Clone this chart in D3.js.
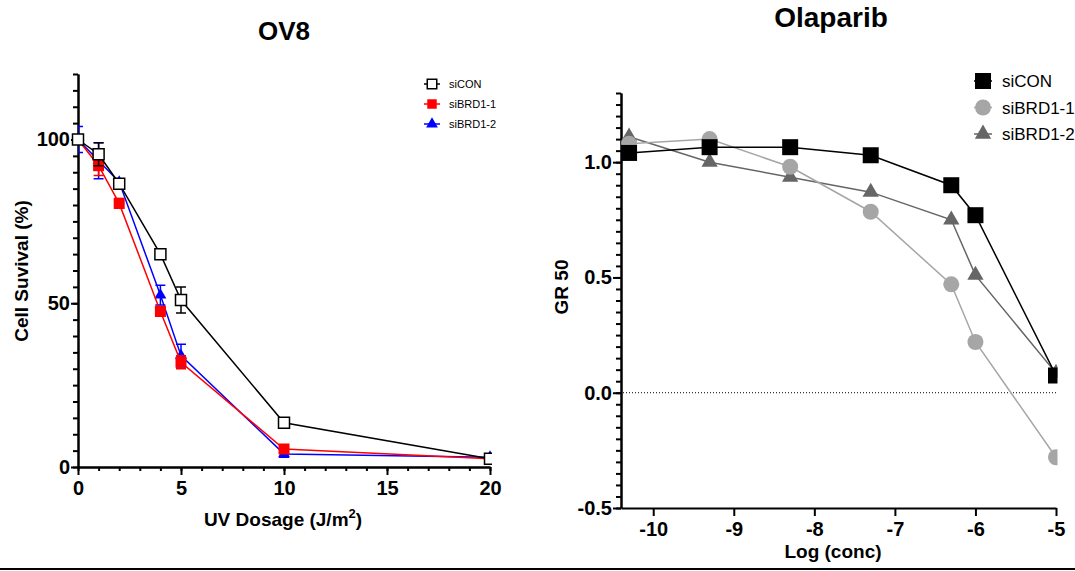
<!DOCTYPE html>
<html>
<head>
<meta charset="utf-8">
<script src="https://cdnjs.cloudflare.com/ajax/libs/d3/7.8.5/d3.min.js"></script>
<style>
  body { margin: 0; background: #fff; }
  svg { font-family: "Liberation Sans", Arial, sans-serif; }
</style>
</head>
<body>
<script>
// left panel: OV8 UV survival
var uvDose = [0, 1, 2, 4, 5, 10, 20];
var siconUV = [100, 95.5, 86.5, 65, 51, 13.5, 2.5];
var siconUVErr = [0.5, 3.5, 1.5, 1.5, 4, 1, 0.5];
var brd1UV = [100, 92, 80.5, 47.5, 32, 5.5, 2.5];
var brd1UVErr = [0.5, 3, 1.5, 1.5, 2, 1, 0.5];
var brd2UV = [100, 93.5, 87, 52.5, 34, 4, 3];
var brd2UVErr = [4, 5.5, 1, 3, 3.5, 1, 0.5];
var uvMajorTicks = [0, 5, 10, 15, 20];
var survMajorTicks = [0, 50, 100];

// right panel: Olaparib GR50
var logConc = [-10.3, -9.3, -8.3, -7.3, -6.3, -6, -5];
var siconGR = [1.04, 1.065, 1.065, 1.03, 0.90, 0.77, 0.075];
var brd1GR = [1.08, 1.10, 0.98, 0.785, 0.47, 0.22, -0.28];
var brd2GR = [1.11, 1.0, 0.935, 0.87, 0.75, 0.51, 0.085];
var concTicks = [-10, -9, -8, -7, -6, -5];
var grMajorTicks = [-0.5, 0, 0.5, 1.0];

var width = 1075;
var height = 571;

var svg = d3.select('body').append('svg')
  .attr('width', width)
  .attr('height', height);

var defs = svg.append('defs');

// plain hyphen instead of the unicode minus d3 puts in
var hyphenFmt = function(f) {
  return function(d) { return f(d).replace('\u2212', '-'); };
};

var styleAxis = function(g) {
  g.select('.domain').attr('stroke', '#000').attr('stroke-width', 2);
  g.selectAll('.tick line').attr('stroke', '#000').attr('stroke-width', 2);
  g.selectAll('.tick text')
    .attr('fill', '#000')
    .attr('font-size', 20)
    .attr('font-weight', 'bold')
    .attr('font-family', '"Liberation Sans", Arial, sans-serif');
};

/*---------------- left chart ----------------*/
var x1 = d3.scaleLinear().domain([0, 20]).range([78, 490]);
var y1 = d3.scaleLinear().domain([0, 120]).range([467, 74]);

svg.append('g')
  .attr('transform', 'translate(0,' + y1(0) + ')')
  .call(d3.axisBottom(x1).tickValues(d3.range(0, 21, 1)).tickSize(4).tickSizeOuter(0).tickFormat(''))
  .call(styleAxis);
svg.append('g')
  .attr('transform', 'translate(0,' + y1(0) + ')')
  .call(d3.axisBottom(x1).tickValues(uvMajorTicks).tickSize(8).tickSizeOuter(0).tickPadding(6))
  .call(styleAxis);

svg.append('g')
  .attr('transform', 'translate(' + x1(0) + ',0)')
  .call(d3.axisLeft(y1).tickValues(d3.range(0, 121, 5)).tickSize(5).tickSizeOuter(0).tickFormat(''))
  .call(styleAxis);
svg.append('g')
  .attr('transform', 'translate(' + x1(0) + ',0)')
  .call(d3.axisLeft(y1).tickValues(survMajorTicks).tickSize(7).tickSizeOuter(0).tickPadding(1))
  .call(styleAxis);

defs.append('clipPath').attr('id', 'clipErr')
  .append('rect').attr('x', x1(0)).attr('y', 0).attr('width', 500).attr('height', height);
defs.append('clipPath').attr('id', 'clipLeft')
  .append('rect').attr('x', 0).attr('y', 0).attr('width', x1(20) + 2).attr('height', height);

var uvSeries = [
  {name: 'siBRD1-2', vals: brd2UV, err: brd2UVErr, color: '#0000ff', sym: d3.symbolTriangle, size: 62, fill: '#0000ff'},
  {name: 'siBRD1-1', vals: brd1UV, err: brd1UVErr, color: '#ff0000', sym: d3.symbolSquare, size: 121, fill: '#ff0000'},
  {name: 'siCON', vals: siconUV, err: siconUVErr, color: '#000', sym: d3.symbolSquare, size: 121, fill: '#fff'}
];

var uvLine = d3.line()
  .x(function(d) { return x1(d.x); })
  .y(function(d) { return y1(d.y); });

uvSeries.forEach(function(s) {
  var pts = uvDose.map(function(d, i) { return {x: d, y: s.vals[i], e: s.err[i]}; });
  var g = svg.append('g').attr('clip-path', 'url(#clipLeft)');

  g.append('path')
    .datum(pts)
    .attr('d', uvLine)
    .attr('fill', 'none')
    .attr('stroke', s.color)
    .attr('stroke-width', 1.5);

  var eb = g.append('g').attr('clip-path', 'url(#clipErr)');
  pts.forEach(function(p) {
    var cx = x1(p.x);
    eb.append('path')
      .attr('d', 'M' + cx + ',' + y1(p.y + p.e) + 'V' + y1(p.y - p.e) +
        'M' + (cx - 5) + ',' + y1(p.y + p.e) + 'H' + (cx + 5) +
        'M' + (cx - 5) + ',' + y1(p.y - p.e) + 'H' + (cx + 5))
      .attr('stroke', s.color)
      .attr('stroke-width', 1.5)
      .attr('fill', 'none');
  });

  g.selectAll('.mk')
    .data(pts)
    .enter().append('path')
    .attr('transform', function(d) { return 'translate(' + x1(d.x) + ',' + y1(d.y) + ')'; })
    .attr('d', d3.symbol().type(s.sym).size(s.size))
    .attr('fill', s.fill)
    .attr('stroke', s.color)
    .attr('stroke-width', s.fill === '#fff' ? 1.5 : 0);
});

// left legend
var legLeft = [
  {name: 'siCON', color: '#000', sym: d3.symbolSquare, fill: '#fff', size: 90},
  {name: 'siBRD1-1', color: '#ff0000', sym: d3.symbolSquare, fill: '#ff0000', size: 90},
  {name: 'siBRD1-2', color: '#0000ff', sym: d3.symbolTriangle, fill: '#0000ff', size: 60}
];
legLeft.forEach(function(l, i) {
  var ly = 84 + i * 20;
  svg.append('line')
    .attr('x1', 424).attr('x2', 440).attr('y1', ly).attr('y2', ly)
    .attr('stroke', l.color).attr('stroke-width', 1.5);
  svg.append('path')
    .attr('transform', 'translate(432,' + ly + ')')
    .attr('d', d3.symbol().type(l.sym).size(l.size))
    .attr('fill', l.fill)
    .attr('stroke', l.color)
    .attr('stroke-width', l.fill === '#fff' ? 1.5 : 0);
  svg.append('text')
    .attr('x', 449).attr('y', ly + 4)
    .attr('font-size', 11)
    .text(l.name);
});

svg.append('text')
  .attr('x', 284).attr('y', 40)
  .attr('text-anchor', 'middle')
  .attr('font-size', 26).attr('font-weight', 'bold')
  .text('OV8');

svg.append('text')
  .attr('transform', 'translate(28,271) rotate(-90)')
  .attr('text-anchor', 'middle')
  .attr('font-size', 19).attr('font-weight', 'bold')
  .text('Cell Suvival (%)');

var xl = svg.append('text')
  .attr('x', 283).attr('y', 526)
  .attr('text-anchor', 'middle')
  .attr('font-size', 19).attr('font-weight', 'bold');
xl.append('tspan').text('UV Dosage (J/m');
xl.append('tspan').attr('font-size', 13).attr('dy', -8).text('2');
xl.append('tspan').attr('dy', 8).text(')');

/*---------------- right chart ----------------*/
var x2 = d3.scaleLinear().domain([-10.4, -5]).range([621, 1056]);
var y2 = d3.scaleLinear().domain([-0.5, 1.3]).range([508, 93]);

svg.append('g')
  .attr('transform', 'translate(0,' + y2(-0.5) + ')')
  .call(d3.axisBottom(x2).tickValues(concTicks).tickSize(8).tickSizeOuter(0).tickPadding(6)
    .tickFormat(hyphenFmt(d3.format('d'))))
  .call(styleAxis);

svg.append('g')
  .attr('transform', 'translate(' + x2(-10.4) + ',0)')
  .call(d3.axisLeft(y2).tickValues(d3.range(-10, 27, 1).map(function(d) { return d * 0.05; })).tickSize(5).tickSizeOuter(0).tickFormat(''))
  .call(styleAxis);
svg.append('g')
  .attr('transform', 'translate(' + x2(-10.4) + ',0)')
  .call(d3.axisLeft(y2).tickValues(grMajorTicks).tickSize(8).tickSizeOuter(0).tickPadding(1)
    .tickFormat(hyphenFmt(d3.format('.1f'))))
  .call(styleAxis);

svg.append('line')
  .attr('x1', x2(-10.4) + 2).attr('x2', x2(-5))
  .attr('y1', y2(0)).attr('y2', y2(0))
  .attr('stroke', '#000').attr('stroke-width', 1)
  .attr('stroke-dasharray', '1,2');

defs.append('clipPath').attr('id', 'clipRight')
  .append('rect').attr('x', 0).attr('y', 0).attr('width', x2(-5) + 1.5).attr('height', height);

var grSeries = [
  {name: 'siBRD1-2', vals: brd2GR, color: '#666666', sym: d3.symbolTriangle, size: 115},
  {name: 'siBRD1-1', vals: brd1GR, color: '#a6a6a6', sym: d3.symbolCircle, size: 201},
  {name: 'siCON', vals: siconGR, color: '#000000', sym: d3.symbolSquare, size: 256}
];

var grLine = d3.line()
  .x(function(d) { return x2(d.x); })
  .y(function(d) { return y2(d.y); });

var plotRight = svg.append('g').attr('clip-path', 'url(#clipRight)');

grSeries.forEach(function(s) {
  var pts = logConc.map(function(d, i) { return {x: d, y: s.vals[i]}; });
  plotRight.append('path')
    .datum(pts)
    .attr('d', grLine)
    .attr('fill', 'none')
    .attr('stroke', s.color)
    .attr('stroke-width', 1.5);
});
grSeries.forEach(function(s) {
  var pts = logConc.map(function(d, i) { return {x: d, y: s.vals[i]}; });
  plotRight.append('g').selectAll('path')
    .data(pts)
    .enter().append('path')
    .attr('transform', function(d) { return 'translate(' + x2(d.x) + ',' + y2(d.y) + ')'; })
    .attr('d', d3.symbol().type(s.sym).size(s.size))
    .attr('fill', s.color);
});

// right legend
var legRight = [grSeries[2], grSeries[1], grSeries[0]];
legRight.forEach(function(l, i) {
  var ly = 81 + i * 26.5;
  svg.append('line')
    .attr('x1', 974).attr('x2', 992).attr('y1', ly).attr('y2', ly)
    .attr('stroke', l.color).attr('stroke-width', 1.5);
  svg.append('path')
    .attr('transform', 'translate(983,' + ly + ')')
    .attr('d', d3.symbol().type(l.sym).size(l.size))
    .attr('fill', l.color);
  svg.append('text')
    .attr('x', 1002).attr('y', ly + 6)
    .attr('font-size', 17)
    .text(l.name);
});

svg.append('text')
  .attr('x', 831).attr('y', 27)
  .attr('text-anchor', 'middle')
  .attr('font-size', 28).attr('font-weight', 'bold')
  .text('Olaparib');

svg.append('text')
  .attr('transform', 'translate(568,287) rotate(-90)')
  .attr('text-anchor', 'middle')
  .attr('font-size', 19).attr('font-weight', 'bold')
  .text('GR 50');

svg.append('text')
  .attr('x', 833).attr('y', 558)
  .attr('text-anchor', 'middle')
  .attr('font-size', 19).attr('font-weight', 'bold')
  .text('Log (conc)');

// rule along the bottom
svg.append('line')
  .attr('x1', 0).attr('x2', width)
  .attr('y1', 569).attr('y2', 569)
  .attr('stroke', '#000').attr('stroke-width', 2);
</script>
</body>
</html>
